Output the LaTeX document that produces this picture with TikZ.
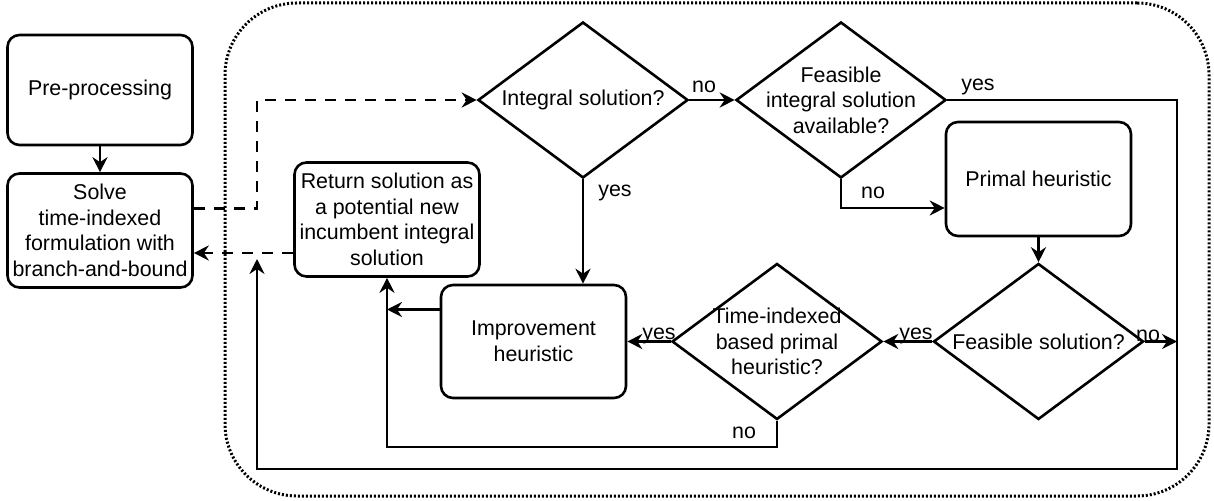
\documentclass[tikz,border=0pt]{standalone}
\usepackage{fontspec}
\setmainfont{Liberation Sans}
\usetikzlibrary{shapes.geometric,arrows.meta}

\begin{document}
\begin{tikzpicture}[x=0.5pt,y=-0.5pt,font=\fontsize{10.7}{12.8}\selectfont]
	 \tikzstyle{block}=[rectangle,draw,line width=1.3pt,rounded corners=6pt,minimum width=92.5pt,minimum height=57pt,inner sep=1pt,align=center]
	 \tikzstyle{decision}=[diamond,draw,line width=1.3pt,aspect=1.346,minimum width=105pt,minimum height=78pt,inner sep=-6pt,align=center]
	 \tikzstyle{flow}=[draw,line width=1.4pt,-{Stealth[length=7.5pt,width=7.5pt,inset=2.5pt]}]
	 \tikzstyle{dashed flow}=[flow,dash pattern=on 5.5pt off 4.5pt]
	 \tikzstyle{loop box}=[rectangle,draw,line width=1.5pt,dash pattern=on 1pt off 1pt,rounded corners=36pt,minimum width=492pt,minimum height=246.5pt]
	 \tikzstyle{note}=[inner sep=1pt]

	 \useasboundingbox (0,0) rectangle (1214,501);
	 \node[loop box] (loop) at (717,249.5) {};

	 \node[block,minimum height=55pt] (pre) at (100,90) 	{Pre-processing};
	 \node[block] (solve) at (100,230.5) 	{Solve\\time-indexed\\formulation with\\branch-and-bound};
	 \node[block] (ret) at (387,219.5) 	{Return solution as\\a potential new\\incumbent integral\\solution};
	 \node[block,minimum height=56.5pt] (impr) at (533.5,341.5) 	{Improvement\\heuristic};
	 \node[block] (primal) at (1038.5,179) 	{Primal heuristic};
	 \node[decision] (intq) at (583,100) 	{Integral solution?};
	 \node[decision] (feas) at (841,100) 	{Feasible\\integral solution\\available?};
	 \node[decision] (feassol) at (1038.5,341.5) 	{Feasible solution?};
	 \node[decision] (timeq) at (777,341.5) 	{Time-indexed\\based primal\\heuristic?};

	 \coordinate (jl) at (257,253);
	 \coordinate (jup) at (257,259);
	 \coordinate (rr) at (1177,469);
	 \coordinate (rb) at (387,447);

	 \draw[flow] (pre) -- (solve);
	 \draw[dashed flow] ([yshift=11pt]solve.east) -| (jl |- intq.west) -- (intq.west);
	 \draw[dashed flow] (ret.west |- jl) -- (solve.east |- jl);
	 \draw[flow] (intq.east) -- (feas.west);
	 \draw[flow] (feas.east) -| (rr) -| (jup);
	 \draw[flow] (feas.south) |- ([yshift=-14.5pt]primal.west);
	 \draw[flow] (primal) -- (feassol);
	 \draw[flow] (feassol.east) -- (feassol.east -| rr);
	 \draw[flow] (feassol.west) -- (timeq.east);
	 \draw[flow] (timeq.west) -- (impr.east);
	 \draw[flow] (intq.south) -- (intq.south |- impr.north);
	 \draw[flow] ([yshift=16pt]impr.west) -- ([yshift=16pt]impr.west -| rb);
	 \draw[flow] (timeq.south) |- (rb) -- (ret.south);

	 \node[note] (no1) at (704,87) 	{no};
	 \node[note] (yes1) at (978,87) 	{yes};
	 \node[note] (yes2) at (615,193) 	{yes};
	 \node[note] (no2) at (873,193) 	{no};
	 \node[note] (yes3) at (916,336) 	{yes};
	 \node[note] (no3) at (1148,336) 	{no};
	 \node[note] (yes4) at (659,336) 	{yes};
	 \node[note] (no4) at (744,433) 	{no};
 \end{tikzpicture}
\end{document}
